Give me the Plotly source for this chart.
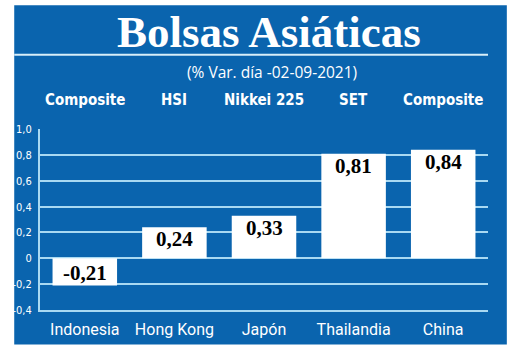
import plotly.graph_objects as go

countries = ["Indonesia", "Hong Kong", "Japón", "Thailandia", "China"]
indices = ["Composite", "HSI", "Nikkei 225", "SET", "Composite"]
values = [-0.21, 0.24, 0.33, 0.81, 0.84]
value_labels = ["-0,21", "0,24", "0,33", "0,81", "0,84"]
tick_vals = [-0.4, -0.2, 0, 0.2, 0.4, 0.6, 0.8, 1.0]
tick_text = ["-0,4", "-0,2", "0", "0,2", "0,4", "0,6", "0,8", "1,0"]

BLUE = "#0a64ae"
GRID = "#a9d9f2"
W, H = 520, 351
L, R, T, B = 36, 488, 129, 312
COND = "DejaVu Sans Condensed, Roboto"

def px(x):
    return (x - L) / (R - L)

def py(y):
    return (B - y) / (B - T)

fig = go.Figure()
fig.add_trace(go.Bar(
    x=countries, y=values,
    marker=dict(color="white", line=dict(width=0)),
    hoverinfo="skip",
))

annotations = []
for c, v, lab in zip(countries, values, value_labels):
    annotations.append(dict(
        x=c, y=v, xref="x", yref="y", text="<b>" + lab + "</b>", showarrow=False,
        yanchor="top" if v > 0 else "bottom", yshift=2 if v > 0 else -2,
        font=dict(family="Liberation Serif", size=21, color="black"),
    ))
for c, lab in zip(countries, indices):
    annotations.append(dict(
        x=c, y=py(100), xref="x", yref="paper", text="<b>" + lab + "</b>", showarrow=False,
        yanchor="middle",
        font=dict(family=COND, size=15, color="white"),
    ))
annotations.append(dict(
    x=px(267), y=py(31), xref="paper", yref="paper", text="<b>Bolsas Asiáticas</b>",
    showarrow=False, yanchor="middle",
    font=dict(family="Liberation Serif", size=45, color="white"),
))
annotations.append(dict(
    x=px(270), y=py(71), xref="paper", yref="paper", text="(% Var. día -02-09-2021)",
    showarrow=False, yanchor="middle",
    font=dict(family="Open Sans", size=15.5, color="white"),
))

shapes = [
    dict(type="rect", xref="paper", yref="paper", x0=px(10), x1=px(507), y0=py(347), y1=py(4),
         fillcolor=BLUE, line=dict(width=0), layer="below"),
    dict(type="line", xref="paper", yref="paper", x0=px(10), x1=px(488), y0=py(54), y1=py(54),
         line=dict(color="#d8eef9", width=2)),
]

fig.update_layout(
    width=W, height=H,
    margin=dict(l=L, r=W - R, t=T, b=H - B, pad=0),
    paper_bgcolor="white", plot_bgcolor=BLUE,
    bargap=0.28, showlegend=False,
    annotations=annotations, shapes=shapes,
    font=dict(family=COND, color="white"),
)
fig.update_yaxes(
    range=[-0.4, 1.001], tickvals=tick_vals, ticktext=tick_text,
    showgrid=True, gridcolor=GRID, gridwidth=1.5,
    zeroline=True, zerolinecolor=GRID, zerolinewidth=1.5,
    showline=True, linecolor=GRID, linewidth=2,
    ticks="outside", ticklen=4, tickcolor=BLUE,
    tickfont=dict(family=COND, size=11, color="white"),
)
fig.update_xaxes(
    showline=True, linecolor=GRID, linewidth=2, showgrid=False,
    ticks="outside", ticklen=4, tickcolor=BLUE,
    tickfont=dict(family="Roboto", size=16, color="white"),
)

fig.write_html("out.html")
